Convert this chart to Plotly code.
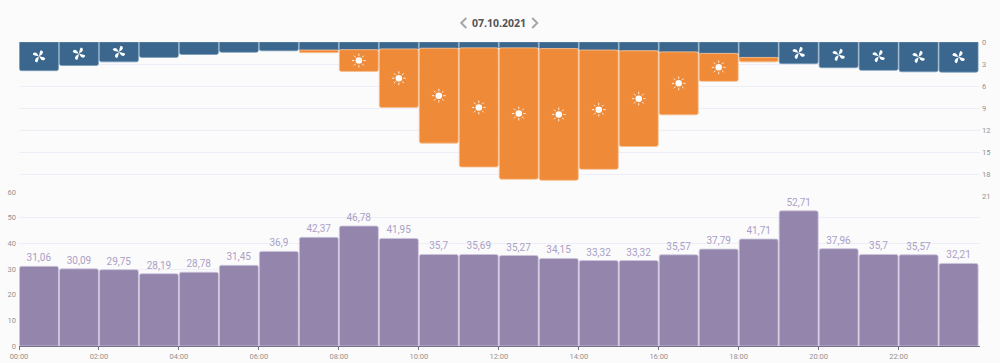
import math
import plotly.graph_objects as go

hours = list(range(24))
tick_hours = list(range(0, 24, 2))
tick_labels = ["%02d:00" % h for h in tick_hours]
date_label = "07.10.2021"

fan_kwh = [3.9, 3.2, 2.7, 2.1, 1.7, 1.4, 1.2, 1.1, 1.05, 0.95, 0.85, 0.8,
           0.8, 0.9, 1.1, 1.2, 1.35, 1.55, 2.1, 2.95, 3.5, 3.85, 4.05, 4.1]
solar_kwh = [None, None, None, None, None, None, None, 0.35, 2.95, 7.95, 12.9, 16.2,
             17.85, 17.9, 16.2, 13.0, 8.55, 3.8, 0.6, None, None, None, None, None]
price = [31.06, 30.09, 29.75, 28.19, 28.78, 31.45, 36.9, 42.37, 46.78, 41.95, 35.7, 35.69,
         35.27, 34.15, 33.32, 33.32, 35.57, 37.79, 41.71, 52.71, 37.96, 35.7, 35.57, 32.21]
price_text = [str(v).replace(".", ",") for v in price]

BG = "#fbfbfc"
BLUE = "#3b678e"
ORANGE = "#ef8a38"
PURPLE = "#9485ad"
GRID = "#eeeef8"
TICK = "#929292"
W, H = 1000, 363
L, R, T, B = 18.5, 20, 42, 17.3
plot_h = H - T - B
split_bottom = (345.7 - 192) / plot_h
split_top = (345.7 - 196.3) / plot_h

bar_kw = dict(x=hours, offset=0.012, width=0.975, hoverinfo="skip", showlegend=False)

fig = go.Figure()
fig.add_trace(go.Bar(y=fan_kwh, yaxis="y2", marker=dict(color=BLUE, line=dict(color="rgba(120,155,185,0.7)", width=1)), **bar_kw))
fig.add_trace(go.Bar(y=solar_kwh, base=fan_kwh, yaxis="y2", marker=dict(color=ORANGE, line=dict(color="rgba(247,190,140,0.8)", width=1)), **bar_kw))
fig.add_trace(go.Bar(y=price, yaxis="y", text=price_text, textposition="outside", cliponaxis=False,
                     textfont=dict(family="Roboto", size=10, color="#aaa0c5"),
                     marker=dict(color=PURPLE, line=dict(color="rgba(205,198,220,0.8)", width=1)), **bar_kw))

sun_idx = [i for i in hours if (solar_kwh[i] or 0) > 2]
sun_x = [i + 0.5 for i in sun_idx]
sun_y = [fan_kwh[i] + solar_kwh[i] / 2 for i in sun_idx]
for sym, size, col, lw in [("asterisk-open", 11.5, "rgba(255,255,255,0.85)", 1), ("circle", 9, ORANGE, 0), ("circle", 6.5, "white", 0)]:
    fig.add_trace(go.Scatter(x=sun_x, y=sun_y, yaxis="y2", mode="markers", hoverinfo="skip", showlegend=False,
                             marker=dict(symbol=sym, size=size, color=col, line=dict(color=col, width=lw))))


def blade(rot):
    pts = [(0, 0), (-0.3, 2.2), (-1.0, 4.6), (-0.4, 6.4), (1.6, 7.0), (2.9, 5.4), (2.3, 3.4), (1.9, 2.2), (0.7, 1.4), (0, 0)]
    c, s = math.cos(rot), math.sin(rot)
    p = [(x * c - y * s, x * s + y * c) for x, y in pts]
    f = lambda q: f"{q[0]:.2f},{q[1]:.2f}"
    return (f"M{f(p[0])} C{f(p[1])} {f(p[2])} {f(p[3])} C{f(p[4])} {f(p[5])} {f(p[6])} "
            f"C{f(p[7])} {f(p[8])} {f(p[9])} Z")


fan_path = " ".join(blade(k * math.pi / 2 - 0.35) for k in range(4))
shapes = []
for i in hours:
    if fan_kwh[i] > 2.5:
        shapes.append(dict(type="path", xref="x", yref="y2", xsizemode="pixel", ysizemode="pixel",
                           xanchor=i + 0.5, yanchor=fan_kwh[i] / 2, path=fan_path,
                           fillcolor="white", line=dict(width=0)))

nav_y = (H - 23 - B) / plot_h
for px, path in [(463.5, "M2.5,5 L-2.5,0 L2.5,-5"), (534.5, "M-2.5,5 L2.5,0 L-2.5,-5")]:
    shapes.append(dict(type="path", xref="paper", yref="paper", xsizemode="pixel", ysizemode="pixel",
                       xanchor=(px - L) / (W - L - R), yanchor=nav_y, path=path,
                       line=dict(color="#a6a6a6", width=2)))

fig.update_layout(
    width=W, height=H, autosize=False,
    paper_bgcolor=BG, plot_bgcolor=BG,
    margin=dict(l=L, r=R, t=T, b=B, autoexpand=False),
    barmode="overlay", barcornerradius=2,
    font=dict(family="Roboto", size=8, color=TICK),
    xaxis=dict(range=[0, 24.035], tickmode="array", tickvals=tick_hours, ticktext=tick_labels,
               ticks="outside", ticklen=3, tickcolor="#77708a", showline=True, linecolor="#77708a",
               linewidth=1, showgrid=False, zeroline=False, tickfont=dict(size=7.5, color=TICK), anchor="y"),
    yaxis=dict(domain=[0, split_bottom], range=[0, 60], dtick=10, gridcolor=GRID, zeroline=False,
               tickfont=dict(size=7.5, color=TICK), ticks="", ticklabelstandoff=2),
    yaxis2=dict(domain=[split_top, 1], range=[21, 0], dtick=3, side="right", anchor="x", gridcolor=GRID,
                zeroline=False, tickfont=dict(size=7.5, color=TICK), ticks="", ticklabelstandoff=1),
    shapes=shapes,
    annotations=[
        dict(text=f"<b>{date_label}</b>", xref="paper", yref="paper", x=(498.5 - L) / (W - L - R), y=nav_y, xanchor="center", yanchor="middle",
             showarrow=False, font=dict(family="Open Sans", size=10.5, color="#555555")),
    ],
)
fig.write_html("out.html", config=dict(displayModeBar=False),
               post_script="document.body.style.margin='0';document.documentElement.style.overflow='hidden';document.documentElement.style.background='%s';" % BG)
